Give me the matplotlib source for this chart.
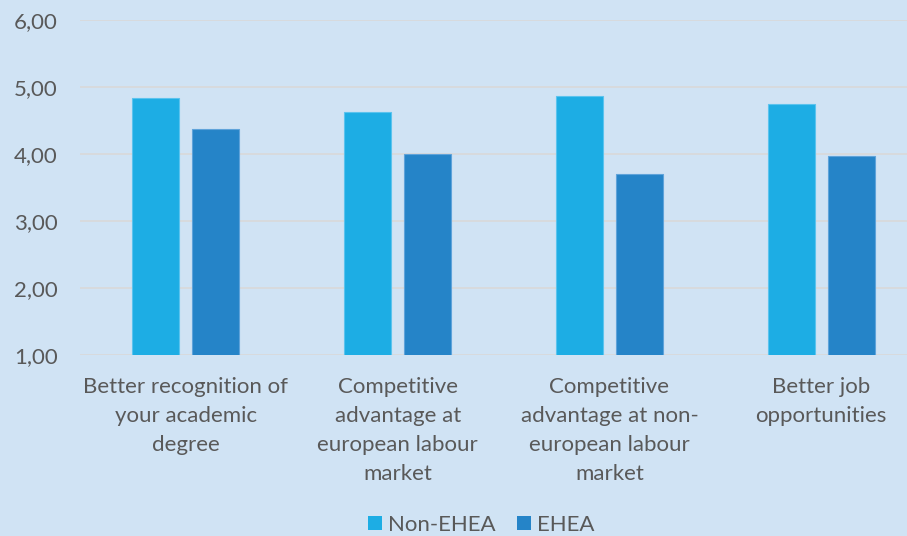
import matplotlib
matplotlib.use("Agg")
import matplotlib.pyplot as plt
import numpy as np
from matplotlib.ticker import FuncFormatter

categories = ["Better recognition of\nyour academic\ndegree",
              "Competitive\nadvantage at\neuropean labour\nmarket",
              "Competitive\nadvantage at non-\neuropean labour\nmarket",
              "Better job\nopportunities"]
non_ehea = [4.84, 4.62, 4.86, 4.75]
ehea = [4.38, 4.00, 3.70, 3.97]
series_names = ["Non-EHEA", "EHEA"]

bg = "#D0E3F4"
c1 = "#1DADE4"
c2 = "#2584C8"
txt = "#595959"

plt.rcParams['font.family'] = ['Lato', 'DejaVu Sans']
fig = plt.figure(figsize=(9.07, 5.36), dpi=100, facecolor=bg)
ax = fig.add_axes([0.0882, 0.3377, 0.934, 0.625])
ax.set_facecolor(bg)

x = np.arange(len(categories))
w = 0.222
off = 0.1417
ax.bar(x - off, non_ehea, w, bottom=0, color=c1, edgecolor="#5BC3EE", linewidth=0.8, label=series_names[0], zorder=3)
ax.bar(x + off, ehea, w, bottom=0, color=c2, edgecolor="#5FA3DA", linewidth=0.8, label=series_names[1], zorder=3)

ax.set_ylim(1, 6)
ax.set_xlim(-0.5, len(categories) - 0.5)
ax.set_yticks([1, 2, 3, 4, 5, 6])
ax.yaxis.set_major_formatter(FuncFormatter(lambda v, p: f"{v:.2f}".replace(".", ",")))
ax.grid(axis="y", color="#D9D9D9", linewidth=1.2, zorder=0)
ax.set_axisbelow(True)
for s in ax.spines.values():
    s.set_visible(False)
ax.tick_params(axis="both", length=0, colors=txt, labelsize=16)
ax.tick_params(axis="y", pad=16)
ax.tick_params(axis="x", pad=16)
ax.set_xticks(x)
ax.set_xticklabels(categories, linespacing=1.55)

leg = fig.legend(loc="lower center", bbox_to_anchor=(0.531, -0.035), ncol=2, frameon=False,
                 fontsize=16, labelcolor=txt, handlelength=0.6, handleheight=0.6,
                 handletextpad=0.3, columnspacing=0.95)
for h in leg.legend_handles:
    h.set_edgecolor("none")

fig.savefig("out.png", dpi=100, facecolor=bg)
